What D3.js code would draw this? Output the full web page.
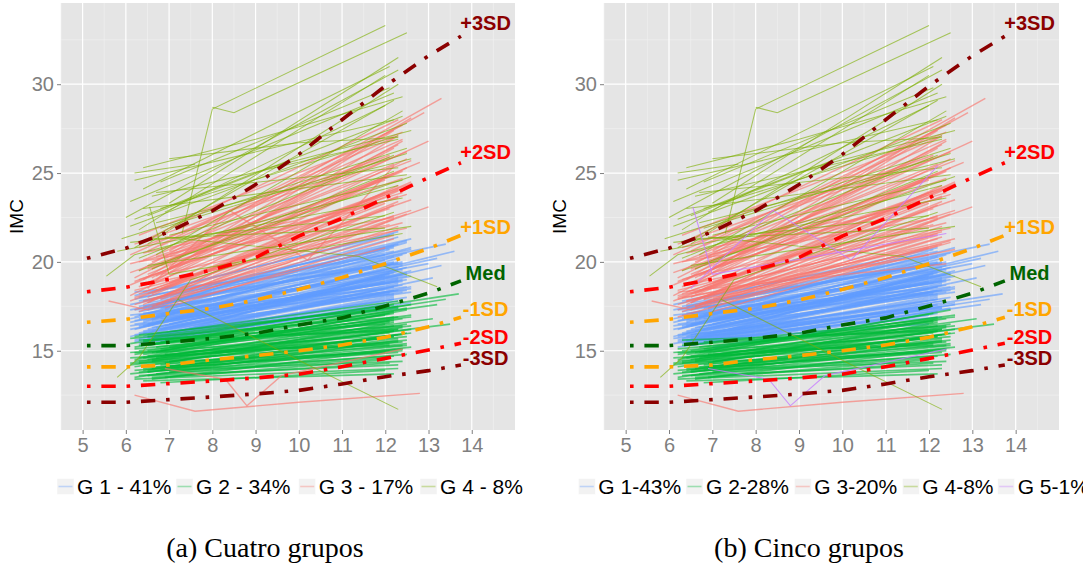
<!DOCTYPE html>
<html><head><meta charset="utf-8">
<script src="https://cdn.jsdelivr.net/npm/d3@7"></script>
<style>body{margin:0;background:#fff}svg{display:block}</style>
</head><body>
<svg id="fig" width="1083" height="565"></svg>
<script>
// Axis ticks
const xTicks = [5, 6, 7, 8, 9, 10, 11, 12, 13, 14];
const yTicks = [15, 20, 25, 30];

// Reference curves (BMI-for-age z-scores)
const refAges = [5.1, 6, 7, 8, 9, 10, 11, 12, 13, 13.75];
const refM3 = [12.1, 12.1, 12.25, 12.4, 12.57, 12.77, 13.13, 13.54, 13.88, 14.2];
const refM2 = [13.0, 13.0, 13.15, 13.3, 13.47, 13.68, 14.1, 14.57, 15.04, 15.42];
const refM1 = [14.09, 14.09, 14.2, 14.5, 14.72, 15.0, 15.32, 15.76, 16.35, 16.88];
const refMed = [15.29, 15.29, 15.48, 15.7, 15.98, 16.45, 16.85, 17.52, 18.24, 18.93];
const refP1 = [16.6, 16.77, 17.1, 17.39, 17.85, 18.45, 19.12, 19.9, 20.75, 21.5];
const refP2 = [18.32, 18.57, 19.02, 19.55, 20.25, 21.45, 22.45, 23.6, 24.75, 25.58];
const refP3 = [20.2, 20.77, 21.7, 22.87, 24.35, 26.05, 28.0, 29.9, 31.6, 32.7];
const refNames = ["-3SD", "-2SD", "-1SD", "Med", "+1SD", "+2SD", "+3SD"];
const refLabelAge = 14.32;
const refLabelBmi = [14.59, 15.77, 17.35, 19.38, 21.98, 26.2, 33.45];

// Individual trajectories: flat lists of (age, BMI) pairs, by four-group cluster
const g1Traj = [
[6.2,15.6,12.3,17.4],[6.4,16.0,12.1,18.3],[6.3,16.4,12.5,19.0],[6.6,15.9,12.2,17.9],[6.1,16.8,12.4,19.6],
[6.8,16.2,12.3,18.8],[6.5,17.1,12.0,20.1],[6.2,16.5,12.6,18.5],[6.9,15.8,12.2,18.1],[6.4,17.4,12.5,20.5],
[6.7,16.6,12.1,19.3],[6.3,15.4,12.3,17.8],[6.5,16.9,13.0,19.9],[6.1,17.6,12.2,20.8],[6.8,17.0,12.4,19.5],
[6.6,16.3,12.6,19.2],[6.2,17.9,12.3,21.0],[6.4,16.1,9.6,17.3,12.2,18.6],[7.0,16.5,12.5,19.4],[6.3,17.2,12.1,19.8],
[6.5,15.7,12.3,18.4],[6.9,17.3,12.2,20.3],[6.2,16.7,12.4,18.9],[6.7,15.5,12.0,17.6],[6.4,17.8,12.6,21.3],
[6.6,16.8,13.2,20.2],[6.1,16.2,12.3,19.1],[6.8,15.9,12.5,18.0],[6.3,17.5,12.2,20.0],[6.5,16.4,12.4,20.4],
[6.2,18.1,12.1,21.5],[6.9,16.9,12.3,18.7],[6.4,15.8,12.5,19.7],[6.7,17.6,12.2,20.9],[6.6,15.6,12.6,17.7],
[6.1,17.0,12.0,18.5],[6.3,16.3,13.6,20.6],[6.5,17.7,12.3,19.9],[6.8,16.6,12.4,19.0],[6.2,15.9,12.2,18.2],
[7.0,17.2,12.5,21.1],[6.4,16.7,9.9,17.9,12.1,19.4],[6.6,17.4,12.3,19.6],[6.3,15.7,12.6,18.6],[6.9,16.0,12.2,18.4],
[6.1,16.6,12.4,20.0],[6.5,18.2,12.3,21.7],[6.7,16.3,12.0,19.2],[6.2,17.3,12.5,19.3],[6.4,15.5,12.2,17.9],
[6.8,17.9,12.6,20.7],[6.3,16.8,12.1,18.8],[6.6,16.1,13.3,19.8],[6.5,16.5,12.4,18.3],[6.1,15.8,12.3,19.0],
[6.9,17.7,12.2,19.9],[6.2,16.9,12.5,21.2],[6.4,17.1,12.3,18.9],[6.7,15.7,12.4,18.7],[6.3,18.0,12.0,20.4],
[6.5,16.2,12.6,19.5],[6.8,16.8,12.1,18.2],[6.6,17.5,12.3,21.4],[6.2,15.5,12.2,18.0],[7.0,16.1,12.4,19.3],
[6.4,17.5,13.4,21.0],[6.1,16.4,12.5,18.6],[6.3,17.8,12.2,20.6],[6.9,15.9,12.3,19.5],[6.5,15.9,12.1,17.5],
[6.7,17.0,12.6,20.8],[6.2,16.2,12.4,19.8],[6.6,16.7,12.2,18.6],[6.4,16.4,12.3,20.2],[6.8,17.4,12.5,19.2],
[6.3,16.0,12.0,18.9],[6.5,17.3,12.2,21.6],[6.1,17.3,12.3,20.0],[6.9,16.4,12.6,18.3],[6.2,18.3,12.4,19.9],
[6.6,15.8,13.1,19.1],[6.4,16.6,12.1,20.7],[6.7,16.9,12.3,19.7],[6.3,17.0,12.5,18.4],[6.5,15.6,12.2,19.4]
];
const g2Traj = [
[6.2,13.4,12.3,14.0],[6.3,13.6,12.1,14.6],[6.5,13.9,12.4,15.1],[6.1,14.2,12.2,15.8],[6.4,14.0,9.2,14.6,12.5,15.4],
[6.8,13.2,12.0,13.9],[6.6,14.5,12.3,16.2],[6.2,14.8,12.2,16.9],[6.9,14.1,12.4,15.5],[6.3,15.0,12.1,16.6],
[6.7,13.7,12.5,14.8],[6.5,15.3,12.2,17.2],[6.1,14.6,10.1,15.2,12.6,16.0],[7.0,14.4,12.3,15.9],[6.4,15.5,12.0,17.0],
[6.2,13.9,12.4,15.0],[6.8,15.1,12.2,16.4],[6.3,14.3,12.5,16.5],[6.6,13.5,12.1,14.3],[6.9,15.6,12.3,17.4],
[6.2,15.2,12.6,17.6],[6.5,14.7,12.0,15.7],[6.4,13.3,12.2,13.7],[6.7,14.9,12.4,16.8],[6.1,15.7,12.3,16.9],
[6.8,14.2,9.5,14.9,12.5,15.6],[6.3,14.4,12.1,15.4],[6.6,15.4,13.4,17.9],[6.2,14.1,12.2,16.1],[7.0,13.8,12.6,15.2],
[6.5,15.8,12.3,17.5],[6.4,14.6,12.4,16.3],[6.9,14.8,12.1,16.0],[6.1,13.7,12.5,15.3],[6.7,15.2,12.2,16.7],
[6.3,15.9,11.8,17.3],[6.6,14.0,12.3,14.9],[6.2,14.5,13.1,16.8],[6.8,13.9,12.4,14.4],[6.5,15.0,12.6,17.0],
[6.4,15.6,12.0,16.5],[6.9,14.3,12.2,16.6],[6.2,13.5,12.3,15.6],[6.7,14.6,12.5,15.8],[6.1,15.4,13.7,18.2],
[6.6,14.9,12.1,17.1],[6.3,13.8,12.2,14.7],[6.5,14.2,12.4,15.3],[6.8,15.5,12.3,16.2],[6.4,14.8,12.6,16.4],
[6.2,15.1,9.8,15.9,12.2,16.8],[6.9,13.5,12.0,14.5],[6.3,14.6,12.5,17.3],[6.6,15.7,12.2,17.6],[6.5,13.6,12.3,14.2],
[6.1,14.9,12.4,15.9],[6.7,14.1,12.1,15.0],[6.4,15.3,13.2,17.6],[6.2,14.4,12.6,16.2],[6.8,14.7,12.3,15.5],
[7.0,15.2,12.5,17.4],[6.3,15.6,12.2,16.1],[6.6,13.4,12.4,15.1],[6.5,14.5,12.1,16.7],[6.2,15.8,12.3,17.8],
[6.9,14.0,12.2,15.8],[6.4,13.9,12.5,16.0],[6.7,15.4,12.6,16.9],[6.1,14.3,12.0,14.9],[6.6,14.4,13.5,16.5],
[6.3,15.3,12.4,16.4],[6.8,15.0,12.2,17.1],[6.5,13.8,12.3,15.7],[6.2,14.9,12.1,15.3]
];
const g3Traj = [
[6.2,17.6,12.3,21.8],[6.4,18.3,12.1,23.0],[6.3,19.0,12.5,24.2],[6.6,17.9,12.2,22.6],[6.1,18.7,12.4,25.1],
[6.8,18.5,12.3,23.7],[6.5,19.6,12.0,24.8],[6.2,18.0,12.6,22.9],[6.9,17.4,12.2,21.3],[6.4,20.1,12.5,26.2],
[6.7,18.9,12.1,24.0],[6.3,17.2,12.3,22.0],[6.5,19.3,12.8,25.6],[6.1,20.4,12.2,27.0],[6.8,19.8,12.4,23.9],
[6.6,18.2,12.6,24.5],[6.2,19.1,12.3,26.6],[6.4,17.8,9.7,19.9,12.2,22.4],[7.0,18.8,12.5,25.3],[6.3,20.8,12.1,25.9],
[6.5,17.7,12.3,23.4],[6.9,19.4,12.2,27.4],[6.2,18.4,12.4,22.2],[6.7,20.3,12.0,24.6],[6.4,19.0,12.6,28.1],
[6.6,17.5,13.0,23.1],[6.1,19.9,12.3,23.6],[6.8,17.9,12.5,22.7],[6.3,18.6,12.2,25.0],[6.5,20.6,12.4,27.7],
[6.2,21.0,12.1,26.0],[6.9,18.1,12.3,24.3],[6.4,18.7,12.5,21.9],[6.7,19.2,12.2,26.4],[6.6,20.0,12.6,25.7],
[6.1,17.8,12.0,23.3],[6.3,19.5,12.9,28.4],[6.5,18.0,12.3,24.1],[6.8,20.9,12.4,26.9],[6.2,17.3,12.2,21.5],
[7.0,19.7,12.5,23.8],[6.4,20.5,9.9,22.3,12.1,24.9],[6.6,18.8,12.3,27.1],[6.3,18.2,12.6,23.5],[6.9,20.2,12.2,25.5],
[6.1,19.4,12.4,24.7],[6.5,21.3,12.3,28.0],[5.6,17.8,6.5,17.3,12.0,20.8],[6.2,12.5,7.6,11.6,10.0,12.1,12.8,12.6],
[6.9,14.0,8.3,13.4,8.8,11.9,9.6,13.6,12.4,15.1],[6.7,18.4,12.0,23.9],[6.3,20.0,12.2,22.5],[6.6,19.1,12.4,26.8],
[6.2,18.9,12.6,24.4],[6.4,17.6,12.3,24.0],[6.8,19.3,12.1,22.1],[6.5,18.5,8.4,22.9,10.2,20.1,12.2,25.4],
[6.1,18.1,12.5,25.8],[6.7,17.6,12.2,23.2],[6.3,21.5,12.4,27.3],[7.0,20.6,13.3,29.2],[6.6,19.6,13.0,26.8]
];
const g4Traj = [
[6.2,25.0,7.6,25.5],[7.0,25.8,10.0,26.7,12.3,27.0],[7.3,21.6,8.0,28.6,12.0,33.3],[8.0,28.7,8.5,28.4,12.5,32.9],
[6.1,23.4,12.2,29.5],[6.5,22.6,12.4,28.2],[6.3,21.8,12.0,30.5],[6.8,23.0,12.3,27.1],[5.9,21.3,12.5,26.4],
[6.4,24.1,12.1,31.0],[6.7,22.2,12.6,25.8],[6.2,20.8,12.2,29.1],[7.0,21.5,12.4,24.6],[6.6,23.7,12.3,26.9],
[6.1,22.0,12.5,27.8],[6.9,22.8,12.0,28.8],[6.3,20.2,12.2,26.0],[5.8,20.6,12.4,23.6],[6.5,21.0,12.3,30.0],
[6.8,24.5,12.1,29.8],[6.2,22.4,9.3,25.3,12.6,27.4],[6.6,19.6,12.2,25.1],[6.4,23.0,12.5,24.9],[7.0,23.3,12.3,31.5],
[6.1,21.1,12.0,22.6],[6.7,20.4,12.4,28.5],[5.55,19.2,6.2,20.4,12.3,24.3],[5.8,13.5,6.3,14.6,7.5,19.0,12.2,22.8],
[6.55,23.1,7.0,19.3,12.4,21.6],[7.2,17.9,10.3,14.1,12.3,11.7],[6.9,21.4,11.4,20.3,13.2,18.6],[6.5,19.8,12.6,22.0],
[6.2,24.6,12.2,28.0],[6.8,21.9,12.5,26.1],[6.0,22.5,12.3,30.8],[6.4,25.3,9.0,26.9,12.4,29.3],[6.6,21.3,12.0,21.9],
[6.3,19.5,12.6,24.8],[6.7,23.9,12.3,25.3]
];

// Five-group solution: trajectories that change cluster (indices into the arrays above)
const g2ToG1 = [11, 14, 19, 20, 24, 27, 30, 35, 40, 44, 53, 57, 60, 64, 71];
const g1ToG3 = [16, 24, 30, 33, 40, 46, 50, 56, 59, 62, 76, 79];
const g3ToG5 = [49, 56];
const g4ToG5 = [28];

// Legend labels and captions
const legend4 = ["G 1 - 41%", "G 2 - 34%", "G 3 - 17%", "G 4 - 8%"];
const legend5 = ["G 1-43%", "G 2-28%", "G 3-20%", "G 4-8%", "G 5-1%"];
const captions = ["(a) Cuatro grupos", "(b) Cinco grupos"];

// ---------------------------------------------------------------------------
const groupColors = ["#619CFF", "#00BA38", "#F8766D", "#7CAE00", "#C77CFF"];
const groupOpacity = [0.62, 0.62, 0.64, 0.62, 0.8];
const groupWidth = [1.7, 1.7, 1.45, 1.05, 1.1];
const refColors = ["#8B0000", "#FF0000", "#FFA500", "#006400", "#FFA500", "#FF0000", "#8B0000"];
const refSeries = [refM3, refM2, refM1, refMed, refP1, refP2, refP3];

const toPairs = a => d3.range(0, a.length, 2).map(i => [a[i], a[i + 1]]);

const trajs = [];
[g1Traj, g2Traj, g3Traj, g4Traj].forEach((arr, gi) => arr.forEach((p, i) => {
  let five = gi;
  if (gi === 1 && g2ToG1.includes(i)) five = 0;
  if (gi === 0 && g1ToG3.includes(i)) five = 2;
  if (gi === 2 && g3ToG5.includes(i)) five = 4;
  if (gi === 3 && g4ToG5.includes(i)) five = 4;
  trajs.push({ pts: toPairs(p), four: gi, five });
}));

const svg = d3.select("#fig");
svg.append("rect").attr("width", 1083).attr("height", 565).attr("fill", "#fff");

const plotTop = 3, plotBottom = 430;
const panels = [
  { left: 61, right: 515, key: "four", labels: legend4, keyX: [57, 176, 298.7, 420], caption: captions[0], capX: 265 },
  { left: 604, right: 1059, key: "five", labels: legend5, keyX: [578.3, 686, 794.3, 902.3, 997.7], caption: captions[1], capX: 809 }
];

panels.forEach((p, pi) => {
  const x = d3.scaleLinear().domain([4.5, 15]).range([p.left, p.right]);
  const y = d3.scaleLinear().domain([10.54, 34.57]).range([plotBottom, plotTop]);
  const g = svg.append("g");

  const clipId = "clip" + pi;
  g.append("clipPath").attr("id", clipId).append("rect")
    .attr("x", p.left).attr("y", plotTop).attr("width", p.right - p.left).attr("height", plotBottom - plotTop);

  g.append("rect").attr("x", p.left).attr("y", plotTop)
    .attr("width", p.right - p.left).attr("height", plotBottom - plotTop).attr("fill", "#E5E5E5");

  // minor grid
  const xMinor = d3.range(4.5, 15.01, 1);
  const yMinor = [12.5, 17.5, 22.5, 27.5, 32.5];
  g.selectAll(".xm").data(xMinor).join("line")
    .attr("x1", d => x(d)).attr("x2", d => x(d)).attr("y1", plotTop).attr("y2", plotBottom)
    .attr("stroke", "#F2F2F2").attr("stroke-width", 0.6);
  g.selectAll(".ym").data(yMinor).join("line")
    .attr("y1", d => y(d)).attr("y2", d => y(d)).attr("x1", p.left).attr("x2", p.right)
    .attr("stroke", "#F2F2F2").attr("stroke-width", 0.6);
  // major grid
  g.selectAll(".xg").data(xTicks).join("line")
    .attr("x1", d => x(d)).attr("x2", d => x(d)).attr("y1", plotTop).attr("y2", plotBottom)
    .attr("stroke", "#FFFFFF").attr("stroke-width", 1.2);
  g.selectAll(".yg").data(yTicks).join("line")
    .attr("y1", d => y(d)).attr("y2", d => y(d)).attr("x1", p.left).attr("x2", p.right)
    .attr("stroke", "#FFFFFF").attr("stroke-width", 1.2);

  // trajectories, drawn group by group
  const line = d3.line().x(d => x(d[0])).y(d => y(d[1]));
  const ordered = trajs.slice().sort((a, b) => a[p.key] - b[p.key]);
  g.append("g").attr("clip-path", `url(#${clipId})`)
    .selectAll("path").data(ordered).join("path")
    .attr("d", d => line(d.pts))
    .attr("fill", "none")
    .attr("stroke", d => groupColors[d[p.key]])
    .attr("stroke-opacity", d => groupOpacity[d[p.key]])
    .attr("stroke-width", d => groupWidth[d[p.key]]);

  // reference curves
  refSeries.forEach((vals, ri) => {
    g.append("path")
      .attr("d", line(refAges.map((a, i) => [a, vals[i]])))
      .attr("fill", "none").attr("stroke", refColors[ri])
      .attr("stroke-width", 3.6)
      .attr("stroke-dasharray", "3.6,10.8,14.4,10.8");
  });
  refNames.forEach((n, ri) => {
    g.append("text").attr("x", x(refLabelAge)).attr("y", y(refLabelBmi[ri]))
      .attr("dy", "0.36em").attr("text-anchor", "middle")
      .attr("font-family", "Liberation Sans, Arial, sans-serif")
      .attr("font-weight", "bold").attr("font-size", 20)
      .attr("fill", refColors[ri]).text(n);
  });

  // axes
  const xAxis = d3.axisBottom(x).tickValues(xTicks).tickSize(4).tickPadding(4);
  const yAxis = d3.axisLeft(y).tickValues(yTicks).tickSize(4).tickPadding(3);
  const gx = g.append("g").attr("transform", `translate(0,${plotBottom})`).call(xAxis);
  const gy = g.append("g").attr("transform", `translate(${p.left},0)`).call(yAxis);
  [gx, gy].forEach(a => {
    a.select(".domain").remove();
    a.selectAll(".tick line").attr("stroke", "#7F7F7F");
    a.selectAll(".tick text").attr("fill", "#7F7F7F")
      .attr("font-family", "Liberation Sans, Arial, sans-serif").attr("font-size", 20);
  });

  g.append("text")
    .attr("transform", `translate(${p.left - 38},${(plotTop + plotBottom) / 2}) rotate(-90)`)
    .attr("text-anchor", "middle").attr("font-family", "Liberation Sans, Arial, sans-serif")
    .attr("font-size", 19).attr("fill", "#000").text("IMC");

  // legend
  p.labels.forEach((lab, li) => {
    const kx = p.keyX[li];
    g.append("rect").attr("x", kx).attr("y", 478.5).attr("width", 17).attr("height", 16)
      .attr("fill", "#F2F2F2").attr("stroke", "#fff").attr("stroke-width", 0.5);
    g.append("line").attr("x1", kx + 1.5).attr("x2", kx + 15.5).attr("y1", 486.5).attr("y2", 486.5)
      .attr("stroke", groupColors[li]).attr("stroke-opacity", 0.35).attr("stroke-width", 1.6);
    g.append("text").attr("x", kx + 20).attr("y", 494)
      .attr("font-family", "Liberation Sans, Arial, sans-serif").attr("font-size", 21)
      .attr("fill", "#000").text(lab);
  });

  // caption
  svg.append("text").attr("x", p.capX).attr("y", 557).attr("text-anchor", "middle")
    .attr("font-family", "Liberation Serif, Times New Roman, serif").attr("font-size", 28)
    .attr("fill", "#000").text(p.caption);
});
</script>
</body></html>
